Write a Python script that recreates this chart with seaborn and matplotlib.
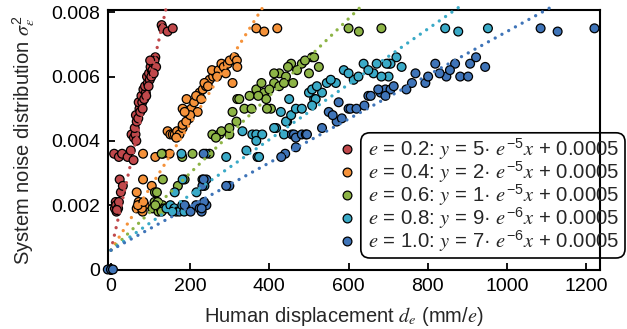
import matplotlib
matplotlib.use("Agg")
import matplotlib.pyplot as plt
import seaborn as sns
import numpy as np
import pandas as pd
from matplotlib.patches import FancyBboxPatch
from matplotlib.transforms import Bbox, IdentityTransform

# ---- data ----
series_names = ["e = 0.2", "e = 0.4", "e = 0.6", "e = 0.8", "e = 1.0"]
colors = ["#c0484b", "#f5923a", "#8db446", "#3aaac7", "#3f74b8"]

red_pts = [(0, 0), (10, .0019), (12, .0021), (14, .0018), (16, .0020), (13, .0020), (18, .0019),
           (20, .0021), (15, .00185), (25, .0024), (22, .0028), (30, .0026),
           (8, .0036), (20, .0035), (28, .0036), (42, .0035), (50, .0037), (57, .0034),
           (52, .0042), (58, .0041), (62, .0042), (64, .0040),
           (60, .0044), (65, .0046), (63, .0048), (69, .0047), (72, .0050), (74, .0049), (70, .0052),
           (79, .0052), (77, .0054), (84, .0053), (82, .0056), (88, .0055), (86, .0057), (93, .0058),
           (91, .0060), (98, .0059), (96, .0061), (103, .0062), (100, .0063), (107, .0064), (105, .0062),
           (112, .0066), (110, .0065), (114, .0063), (102, .0060), (95, .0057), (108, .0061), (80, .0050),
           (89, .0054), (99, .0065),
           (128, .0076), (131, .0075), (143, .0074), (156, .0075)]

orange_pts = [(0, 0), (65, .0019), (70, .0021), (75, .0020), (80, .0018), (85, .0020), (72, .0020),
              (78, .0019), (68, .0020), (82, .0021), (65, .0024), (81, .0028), (103, .0026),
              (81, .0036), (131, .0036), (148, .0036), (112, .0035),
              (143, .0043), (150, .0042), (156, .0042), (161, .0042), (167, .0043), (173, .0042), (165, .0041),
              (181, .0044), (181, .0045), (198, .0047), (190, .0046), (181, .0050), (203, .0050), (219, .0049),
              (191, .0053), (210, .0052), (224, .0055), (215, .0054), (232, .0056), (240, .0057), (249, .0059),
              (236, .0058), (258, .0060), (265, .0061), (255, .0062), (272, .0062), (279, .0064), (285, .0063),
              (295, .0064), (300, .0065), (312, .0066), (318, .0065), (307, .0058), (319, .0063), (290, .0061),
              (268, .0060), (228, .0053), (245, .0057), (200, .0048), (186, .0049),
              (367, .0075), (387, .0074), (420, .0075)]

green_pts = [(0, 0), (105, .0019), (110, .0021), (115, .0020), (120, .0018), (125, .0019), (130, .0020),
             (118, .0021), (135, .0019), (112, .0020), (128, .0018),
             (111, .0024), (131, .0028), (169, .0026), (186, .0028), (116, .0024),
             (128, .0036), (206, .0036), (249, .0036), (180, .0035),
             (256, .0042), (274, .0042), (299, .0042), (279, .0043), (265, .0041),
             (299, .0044), (317, .0046), (307, .0049), (319, .0053), (337, .0050), (324, .0053), (355, .0050),
             (367, .0056), (387, .0055), (392, .0053), (404, .0050), (394, .0050), (412, .0058), (425, .0061),
             (442, .0060), (455, .0064), (470, .0062), (482, .0064), (500, .0061), (508, .0066), (525, .0063),
             (412, .0061), (425, .0057), (437, .0058), (380, .0058), (400, .0056), (460, .0058), (490, .0065),
             (513, .0066), (350, .0054), (372, .0054), (447, .0063),
             (600, .0075), (626, .0074), (683, .0075)]

cyan_pts = [(0, 0), (140, .0019), (150, .0020), (160, .0019), (165, .0018), (173, .0018), (180, .0020),
            (190, .0019), (155, .0018), (185, .0018),
            (161, .0024), (181, .0028), (231, .0028), (216, .0024), (236, .0026),
            (178, .0036), (291, .0035), (342, .0037), (370, .0035), (374, .0035), (240, .0036),
            (332, .0043), (357, .0042), (367, .0042), (382, .0042), (417, .0044), (437, .0042), (367, .0040),
            (412, .0044),
            (429, .0049), (445, .0046), (442, .0046), (455, .0048), (450, .0053), (467, .0050), (482, .0050),
            (513, .0053), (500, .0055), (508, .0056), (517, .0053), (533, .0055), (508, .0051), (520, .0057),
            (545, .0058), (568, .0058), (588, .0062), (613, .0059), (638, .0064), (671, .0064), (663, .0061),
            (701, .0064), (721, .0066), (734, .0063), (701, .0060), (683, .0060), (706, .0064), (696, .0064),
            (625, .0060), (650, .0062), (600, .0061), (555, .0059),
            (844, .0075), (877, .0074), (952, .0075)]

blue_pts = [(-8, 0), (0, 0), (5, 0),
            (186, .0020), (201, .0018), (215, .0020), (224, .0019), (229, .0018), (241, .0020), (235, .0021),
            (229, .0019),
            (231, .0026), (241, .0028), (299, .0026), (291, .0026), (234, .0028),
            (234, .0036), (440, .0036), (467, .0038), (430, .0035),
            (457, .0042), (462, .0042), (467, .0041), (482, .0042), (492, .0042), (495, .0042), (533, .0044),
            (550, .0049), (570, .0046), (575, .0052), (583, .0047), (600, .0050), (605, .0050), (620, .0050),
            (640, .0051), (650, .0054), (656, .0054), (681, .0055), (693, .0056), (706, .0056), (714, .0057),
            (746, .0056), (693, .0054), (769, .0061), (794, .0058), (801, .0060), (819, .0064), (847, .0060),
            (869, .0064), (882, .0060), (902, .0060), (907, .0064), (922, .0066), (945, .0063), (760, .0058),
            (830, .0061), (856, .0062), (675, .0056), (560, .0048),
            (1085, .0075), (1128, .0074), (1221, .0075)]

# fitted lines (slope, intercept) as drawn in the picture
fit_slopes = [5.4e-5, 1.97e-5, 1.2e-5, 8.6e-6, 6.8e-6]
fit_intercept = 0.0006

legend_labels = [
    "$e$ = 0.2: $y$ = 5\u00b7 $e^{-5}x$ + 0.0005",
    "$e$ = 0.4: $y$ = 2\u00b7 $e^{-5}x$ + 0.0005",
    "$e$ = 0.6: $y$ = 1\u00b7 $e^{-5}x$ + 0.0005",
    "$e$ = 0.8: $y$ = 9\u00b7 $e^{-6}x$ + 0.0005",
    "$e$ = 1.0: $y$ = 7\u00b7 $e^{-6}x$ + 0.0005",
]
x_ticks = [0, 200, 400, 600, 800, 1000, 1200]
y_ticks = [0, 0.002, 0.004, 0.006, 0.008]
y_ticklabels = ["0", "0.002", "0.004", "0.006", "0.008"]

all_pts = [red_pts, orange_pts, green_pts, cyan_pts, blue_pts]
rows = []
for name, pts in zip(series_names, all_pts):
    for x, y in pts:
        rows.append({"d": x, "sigma": y, "series": name})
df = pd.DataFrame(rows)

# ---- style ----
sns.set_style("ticks")
plt.rcParams["font.family"] = ["Liberation Sans", "DejaVu Sans"]
plt.rcParams["mathtext.fontset"] = "custom"
plt.rcParams["mathtext.rm"] = "Liberation Sans"
plt.rcParams["mathtext.it"] = "STIXGeneral:italic"
plt.rcParams["mathtext.bf"] = "Liberation Sans:bold"

fig = plt.figure(figsize=(6.27, 3.29), dpi=100)
ax = fig.add_axes([108 / 627, (329 - 269.5) / 329, 492 / 627, 259.5 / 329])

xlim = (-7.5, 1235)
ylim = (0, 0.00807)

sns.scatterplot(data=df, x="d", y="sigma", hue="series", palette=colors,
                s=40, edgecolor="black", linewidth=0.9, ax=ax, clip_on=False, zorder=3)

# dotted fit lines, allowed to poke just past the top spine like the original
for slope, c in zip(fit_slopes, colors):
    x_end = min((0.00822 - fit_intercept) / slope, xlim[1])
    xs = np.array([0, x_end])
    ax.plot(xs, slope * xs + fit_intercept, color=c, lw=2.4,
            linestyle=(0, (0.01, 2.3)), dash_capstyle="round", clip_on=False, zorder=4)

ax.set_xlim(*xlim)
ax.set_ylim(*ylim)
ax.set_xticks(x_ticks)
ax.set_yticks(y_ticks)
ax.set_yticklabels(y_ticklabels)
ax.tick_params(direction="in", length=5, width=1.3, labelsize=14, colors="black")
ax.tick_params(axis="y", pad=5.5)
ax.tick_params(axis="x", pad=6)
for sp in ax.spines.values():
    sp.set_linewidth(1.5)
    sp.set_color("black")

ax.set_xlabel("Human displacement $d_e$ (mm/$e$)", fontsize=14.5, labelpad=5)
ax.set_ylabel("System noise distribution $\\sigma_\\varepsilon^2$", fontsize=14.5, labelpad=10)
ax.xaxis.set_label_coords(0.48, -0.135)

handles, _ = ax.get_legend_handles_labels()
leg = ax.legend(handles, legend_labels, loc="lower right",
                bbox_to_anchor=(619 / 627, (329 - 254) / 329), bbox_transform=fig.transFigure,
                frameon=False, fontsize=14.7, borderpad=0, borderaxespad=0,
                handlelength=0.6, handletextpad=0.7, labelspacing=-0.12, markerscale=1.0)

# rounded frame around the legend texts only (markers sit outside it)
fig.canvas.draw()
r = fig.canvas.get_renderer()
bb = Bbox.union([t.get_window_extent(r) for t in leg.get_texts()])
frame = FancyBboxPatch((bb.x0 - 7, bb.y0 - 4), bb.width + 13, bb.height + 8,
                       boxstyle="round,pad=0,rounding_size=9", transform=IdentityTransform(),
                       fill=False, edgecolor="black", linewidth=1.2)
fig.add_artist(frame)

fig.savefig("out.png", dpi=100)
